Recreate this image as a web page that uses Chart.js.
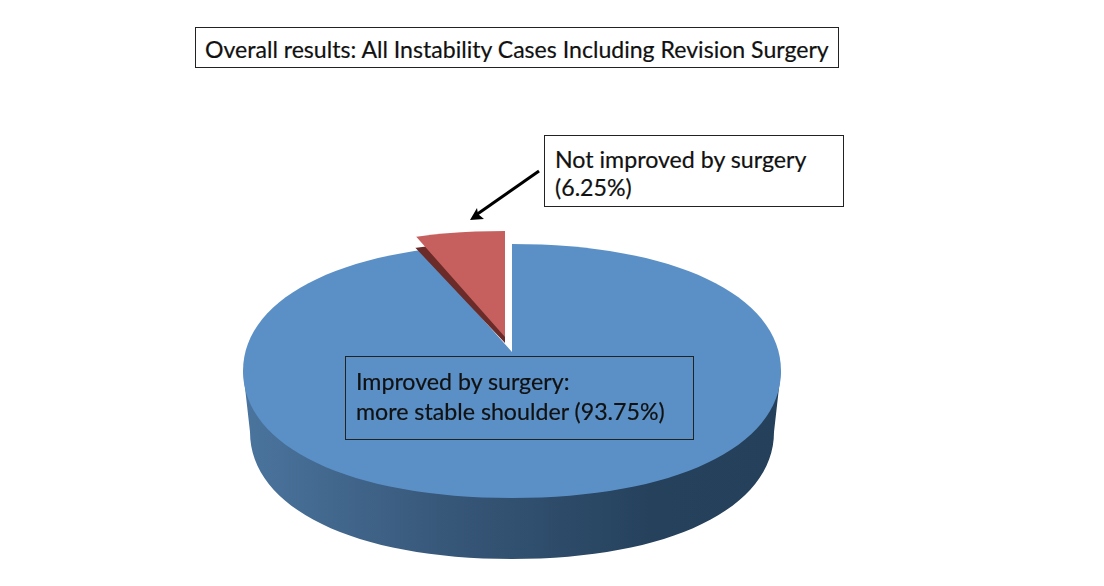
<!DOCTYPE html>
<html>
<head>
<meta charset="utf-8">
<script src="https://cdn.jsdelivr.net/npm/chart.js@4/dist/chart.umd.min.js"></script>
<style>
  html, body { margin: 0; padding: 0; background: #fff; }
  #wrap { position: relative; width: 1104px; height: 586px; overflow: hidden; filter: blur(0.45px); }
  canvas { position: absolute; left: 0; top: 0; }
  .box { position: absolute; box-sizing: border-box; border: 1.5px solid #222; color: #111;
         font-family: Lato, sans-serif; font-size: 23.2px; white-space: nowrap;
         -webkit-text-stroke: 0.2px #111; }
  #title { left: 195px; top: 27px; width: 644px; height: 41px; background: #fff;
           font-size: 23.1px; line-height: 43px; padding-left: 9px; }
  #lblNot { left: 544px; top: 135px; width: 300px; height: 72px; background: #fff;
            line-height: 28px; padding: 9px 0 0 10px; }
  #lblImp { left: 345px; top: 356px; width: 349px; height: 84px;
            line-height: 30px; padding: 9px 0 0 10px; }
</style>
</head>
<body>
<div id="wrap">
  <canvas id="pie" width="1104" height="586"></canvas>
  <div class="box" id="title"></div>
  <div class="box" id="lblNot"></div>
  <div class="box" id="lblImp"></div>
</div>
<script>
var titleText = "Overall results: All Instability Cases Including Revision Surgery";
var categories = ["Improved by surgery", "Not improved by surgery"];
var values = [93.75, 6.25];
var faceColors = ["#5b90c7", "#c6605f"];

$ = function(id){ return document.getElementById(id); };
$("title").textContent = titleText;
$("lblNot").innerHTML = categories[1] + "<br>(" + values[1] + "%)";
$("lblImp").innerHTML = categories[0] + ":<br>more stable shoulder (" + values[0] + "%)";

// the disc outline is a bit fuller than a true ellipse
var bulge = 0.6;
function lowerHalf(ctx, cx, cy, rx, ry){
    ctx.bezierCurveTo(cx - rx, cy + ry * bulge, cx - rx * bulge, cy + ry, cx, cy + ry);
    ctx.bezierCurveTo(cx + rx * bulge, cy + ry, cx + rx, cy + ry * bulge, cx + rx, cy);
}
function clipDisc(ctx, cx, cy, rx, ry){
    ctx.beginPath();
    ctx.moveTo(cx - rx, cy);
    lowerHalf(ctx, cx, cy, rx, ry);
    ctx.bezierCurveTo(cx + rx, cy - ry * bulge, cx + rx * bulge, cy - ry, cx, cy - ry);
    ctx.bezierCurveTo(cx - rx * bulge, cy - ry, cx - rx, cy - ry * bulge, cx - rx, cy);
    ctx.closePath();
    ctx.clip();
}

// draw one arc with a flat squash, apex moved to ax,ay
function drawArc(ctx, arc, ax, ay, k, squash, fill){
    var copy = Object.create(arc);
    copy.options = Object.assign({}, arc.options, {backgroundColor: fill, borderWidth: 0});
    ctx.save();
    ctx.translate(ax, ay);
    ctx.scale(k, k * squash);
    ctx.translate(-arc.x, -arc.y);
    copy.draw(ctx);
    ctx.restore();
}

var pie3d = {
    id: "pie3d",
    beforeDatasetsDraw: function(chart){
        var ctx = chart.ctx;
        var arcs = chart.getDatasetMeta(0).data;
        var blue = arcs[0], red = arcs[1];

        // side wall, only the lower part of the blue slice
        var side = ctx.createLinearGradient(244, 0, 780, 0);
        side.addColorStop(0, "#5b8dbd");
        side.addColorStop(0.25, "#4f7ba6");
        side.addColorStop(0.5, "#38587a");
        side.addColorStop(0.72, "#25415c");
        side.addColorStop(1, "#243f59");
        ctx.save();
        ctx.beginPath();
        ctx.moveTo(243, 370);
        ctx.lineTo(250, 432);
        lowerHalf(ctx, 512, 432, 262, 127);
        ctx.lineTo(781, 370);
        ctx.closePath();
        ctx.clip();
        drawArc(ctx, blue, 512, 369, 1.8, 0.465, side);
        ctx.restore();

        // top face of the blue slice
        ctx.save();
        clipDisc(ctx, 512, 371, 269, 127);
        drawArc(ctx, blue, 512, 352, 1.2, 0.465, blue.options.backgroundColor);
        ctx.restore();

        // pulled out slice: dark wall then face
        ctx.save();
        clipDisc(ctx, 505, 369, 269, 127);
        drawArc(ctx, red, 505, 343, 1.2, 0.44, "#6b2b29");
        ctx.restore();

        ctx.save();
        clipDisc(ctx, 505, 358, 269, 127);
        drawArc(ctx, red, 505, 337, 1.2, 0.468, red.options.backgroundColor);
        ctx.restore();
        return false;
    },
    afterDraw: function(chart){
        // arrow from the label to the slice
        var ctx = chart.ctx;
        ctx.save();
        ctx.strokeStyle = "#000";
        ctx.fillStyle = "#000";
        ctx.lineWidth = 3;
        ctx.beginPath();
        ctx.moveTo(539, 171);
        ctx.lineTo(476, 215);
        ctx.stroke();
        ctx.beginPath();
        ctx.moveTo(470, 220);
        ctx.lineTo(477, 208);
        ctx.lineTo(478, 214);
        ctx.lineTo(484, 219);
        ctx.closePath();
        ctx.fill();
        ctx.restore();
    }
};

var chart = new Chart($("pie"), {
    type: "pie",
    data: {
        labels: categories,
        datasets: [{ data: values, backgroundColor: faceColors, borderWidth: 0 }]
    },
    options: {
        responsive: false,
        animation: false,
        events: [],
        plugins: { legend: { display: false }, tooltip: { enabled: false }, title: { display: false } }
    },
    plugins: [pie3d]
});
</script>
</body>
</html>
